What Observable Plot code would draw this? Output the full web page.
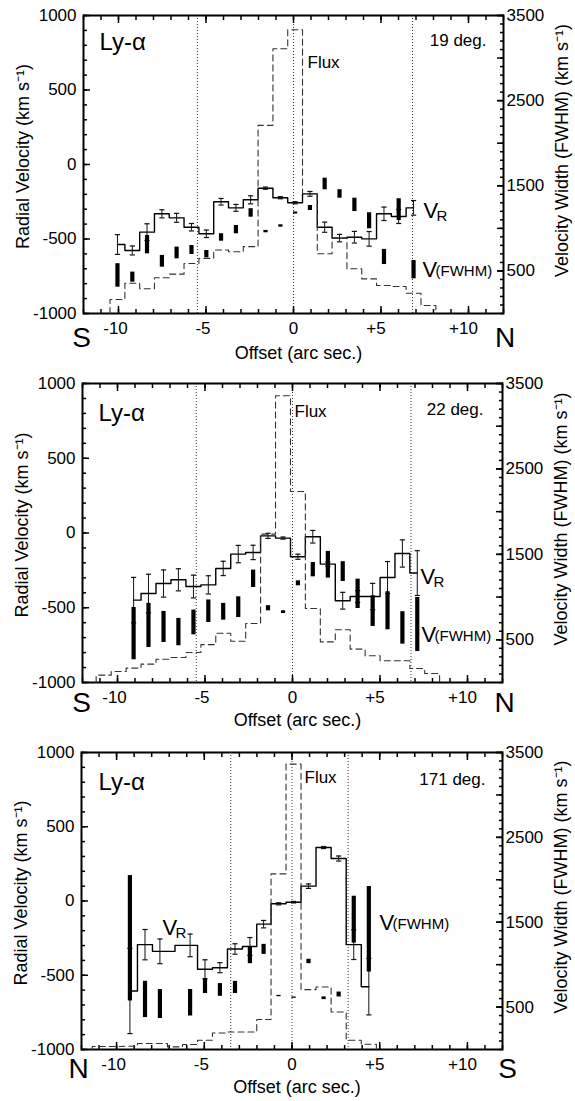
<!DOCTYPE html>
<html>
<head>
<meta charset="utf-8">
<script src="https://cdn.jsdelivr.net/npm/d3@7"></script>
<script src="https://cdn.jsdelivr.net/npm/@observablehq/plot@0.6"></script>
<style>
  html, body { margin: 0; padding: 0; background: #fff; }
  .panel { position: relative; width: 575px; }
  .panel svg { position: absolute; left: 0; top: 0; }
</style>
</head>
<body>
<div id="chart"></div>
<script>
// ---------------- DATA ----------------
// Panel 1: PA 19 deg (S -> N)
const offset19   = [-10.06,-9.21,-8.37,-7.52,-6.68,-5.83,-4.98,-4.14,-3.29,-2.45,-1.60,-0.75,0.09,0.94,1.78,2.63,3.48,4.32,5.17,6.01,6.86];
const vr19       = [-537,-577,-454,-331,-358,-421,-465,-250,-291,-237,-159,-223,-257,-197,-421,-494,-488,-499,-331,-349,-291];
const vrErr19    = [66,30,56,27,30,25,25,22,23,27,7,7,7,16,34,25,39,49,45,47,49];
const fwhm19     = [447,427,809,613,711,746,697,893,985,1181,962,1028,1180,1239,1521,1404,1276,1089,664,1220,515];
const fwhmErr19  = [138,59,108,69,69,53,43,44,49,50,14,14,12,29,68,50,78,94,89,128,108];
const fluxOffset19 = [-10.06,-9.21,-8.37,-7.52,-6.68,-5.83,-4.98,-4.14,-3.29,-2.45,-1.60,-0.75,0.09,0.94,1.78,2.63,3.48,4.32,5.17,6.01,6.86,7.71];
const flux19     = [165,355,290,420,462,588,647,745,725,785,2210,3110,3332,1406,701,889,525,407,329,317,238,94];
const dotted19   = [-5.49,0,6.8];

// Panel 2: PA 22 deg (S -> N)
const offset22   = [-9.08,-8.23,-7.37,-6.52,-5.66,-4.81,-3.96,-3.10,-2.25,-1.40,-0.54,0.31,1.16,2.02,2.87,3.72,4.58,5.43,6.28,7.13];
const vr22       = [-449,-405,-338,-313,-358,-347,-237,-141,-130,-19,-34,-159,-25,-208,-453,-425,-425,-298,-137,-268];
const vrErr22    = [152,129,91,74,76,61,48,58,48,17,7,17,42,15,56,40,88,107,91,150];
const fwhm22     = [572,668,650,590,703,834,828,882,1214,869,824,1161,1321,1378,1298,1038,836,840,639,679];
const fwhmErr22  = [306,258,182,160,145,132,98,121,102,30,16,29,84,156,116,172,180,223,190,316];
const fluxOffset22 = [-10.79,-9.93,-9.08,-8.23,-7.37,-6.52,-5.66,-4.81,-3.96,-3.10,-2.25,-1.40,-0.54,0.31,1.16,2.02,2.87,3.72,4.58,5.43,6.28,7.13,7.98];
const flux22     = [86,129,168,215,273,293,351,443,576,482,691,1737,3356,2236,866,476,617,391,313,254,254,164,105];
const dotted22   = [-5.5,0,6.77];

// Panel 3: PA 171 deg (N -> S)
const offset171  = [-9.24,-8.38,-7.53,-5.81,-4.96,-4.11,-3.25,-2.40,-1.62,-0.77,0.09,0.94,1.80,2.66,3.52,4.38];
const vr171      = [-606,-294,-339,-299,-460,-449,-323,-306,-156,-19,-8,100,360,286,-294,-577];
const vrErr171   = [287,102,83,76,64,34,35,60,25,7,5,15,7,17,100,190];
const fwhm171    = [1311,590,536,551,747,702,731,1109,1180,630,611,1037,604,648,1530,1417];
const fwhmErr171 = [739,214,171,156,88,75,72,98,59,8,8,26,16,29,276,504];
const fluxOffset171 = [-10.96,-10.10,-9.24,-8.38,-7.53,-6.67,-5.81,-4.96,-4.11,-3.25,-2.40,-1.62,-0.77,0.09,0.94,1.80,2.66,3.52,4.38];
const flux171    = [35,35,39,70,70,31,59,109,195,207,207,353,2070,3363,706,736,442,109,62];
const dotted171  = [-3.49,0,3.2];

// Axes
const xDomain = [-12, 12];
const xTicks = [-10, -5, 0, 5, 10];
const xTickLabels = ["-10", "-5", "0", "+5", "+10"];
const vrDomain = [-1000, 1000];
const vrTicks = [-1000, -500, 0, 500, 1000];
const fwhmDomain = [0, 3500];
const fwhmTicks = [500, 1500, 2500, 3500];

// ---------------- DRAWING ----------------
const FONT = "'Liberation Sans', Arial, Helvetica, sans-serif";
const hbar = {draw(ctx, size) { const r = Math.sqrt(size / Math.PI); ctx.moveTo(-r, 0); ctx.lineTo(r, 0); }};

function label(text, o) {
  return Plot.text([text], {text: d => d, lineAnchor: "top", fill: "#000", fontFamily: FONT, ...o});
}
const xLabel = d => xTickLabels[xTicks.indexOf(d)];

function makePanel(cfg) {
  const div = document.createElement("div");
  div.className = "panel";
  div.style.height = cfg.h + "px";

  const vrData = cfg.offset.map((x, i) => ({x, v: cfg.vr[i], lo: cfg.vr[i] - cfg.vrErr[i], hi: cfg.vr[i] + cfg.vrErr[i]}));
  const fwData = cfg.offset.map((x, i) => ({x, lo: cfg.fwhm[i] - cfg.fwhmErr[i], hi: cfg.fwhm[i] + cfg.fwhmErr[i]}));
  const fo = cfg.fluxOffset, n = fo.length;
  const hL = (fo[1] - fo[0]) / 2, hR = (fo[n - 1] - fo[n - 2]) / 2;
  const fluxPts = [
    {x: fo[0] - hL, w: 0}, {x: fo[0] - hL, w: cfg.flux[0]},
    ...fo.map((x, i) => ({x, w: cfg.flux[i]})),
    {x: fo[n - 1] + hR, w: cfg.flux[n - 1]}, {x: fo[n - 1] + hR, w: 0}
  ];

  const common = {
    width: 575, height: cfg.h,
    marginTop: cfg.mt, marginBottom: cfg.mb, marginLeft: cfg.ml, marginRight: cfg.mr,
    style: {background: "transparent", fontFamily: FONT, fontSize: "17px", color: "#000", overflow: "visible"}
  };
  const A = cfg.ann;
  // label-only bottom axes (zero-length ticks), so the sign can hang left of the tick
  const xLab = {anchor: "bottom", tickSize: 0, tickPadding: 8, tickFormat: xLabel, fontSize: 17, label: null};

  const svgA = Plot.plot({
    ...common,
    x: {domain: xDomain},
    y: {domain: vrDomain},
    marks: [
      Plot.ruleX(cfg.dotted, {x: d => d, stroke: "#333", strokeWidth: 1, strokeDasharray: "1,2"}),
      Plot.line(vrData, {x: "x", y: "v", curve: "step", stroke: "#000", strokeWidth: 1.4}),
      Plot.ruleX(vrData, {x: "x", y1: "lo", y2: "hi", stroke: "#111", strokeWidth: 1}),
      Plot.dot(vrData, {x: "x", y: "lo", symbol: hbar, r: 2.6, fill: "none", stroke: "#111", strokeWidth: 1.2}),
      Plot.dot(vrData, {x: "x", y: "hi", symbol: hbar, r: 2.6, fill: "none", stroke: "#111", strokeWidth: 1.2}),
      // axes (ticks inward)
      Plot.axisY({anchor: "left", ticks: d3.range(-1000, 1001, 100), tickSize: -4, strokeWidth: 1.5, tickFormat: () => "", label: null}),
      Plot.axisY({anchor: "left", ticks: vrTicks, tickSize: -7, strokeWidth: 1.5, tickPadding: 14, tickFormat: d => String(d), fontSize: 17, label: null}),
      Plot.axisX({anchor: "bottom", ticks: d3.range(-12, 13, 1), tickSize: -4, strokeWidth: 1.5, tickFormat: () => "", label: null}),
      Plot.axisX({anchor: "bottom", ticks: xTicks, tickSize: -7, strokeWidth: 1.5, tickFormat: () => "", label: null}),
      Plot.axisX({...xLab, ticks: xTicks.filter(d => d < 0), dx: -3}),
      Plot.axisX({...xLab, ticks: xTicks.filter(d => d === 0)}),
      Plot.axisX({...xLab, ticks: xTicks.filter(d => d > 0), dx: -5}),
      Plot.axisX({anchor: "top", ticks: d3.range(-12, 13, 1), tickSize: -4, strokeWidth: 1.5, tickFormat: () => "", label: null}),
      Plot.axisX({anchor: "top", ticks: xTicks, tickSize: -7, strokeWidth: 1.5, tickFormat: () => "", label: null}),
      Plot.frame({stroke: "#000", strokeWidth: 2}),
      // titles & annotations
      label("Radial Velocity (km s\u207B\u00B9)", {frameAnchor: "left", rotate: -90, lineAnchor: "middle", textAnchor: "middle", dx: -60, dy: -8, fontSize: 18}),
      label("Offset (arc sec.)", {frameAnchor: "bottom", textAnchor: "middle", dx: A.offDx, dy: A.offDy, fontSize: 18}),
      label(A.leftDir, {frameAnchor: "bottom-left", textAnchor: "middle", dx: A.ldDx, dy: A.dirDy, fontSize: 28}),
      label(A.rightDir, {frameAnchor: "bottom-right", textAnchor: "middle", dx: A.rdDx, dy: A.dirDy, fontSize: 28}),
      label("Ly-\u03B1", {frameAnchor: "top-left", textAnchor: "start", dx: A.lyDx, dy: A.lyDy, fontSize: 24}),
      label(A.angle, {frameAnchor: "top-right", textAnchor: "end", dx: A.degDx, dy: A.degDy, fontSize: 17}),
      label("Flux", {frameAnchor: "top-left", textAnchor: "start", dx: A.fluxDx, dy: A.fluxDy, fontSize: 17}),
      label("V", {frameAnchor: "top-left", textAnchor: "start", dx: A.vrDx, dy: A.vrDy, fontSize: 22}),
      label("R", {frameAnchor: "top-left", textAnchor: "start", dx: A.vrDx + 13, dy: A.vrDy + 8, fontSize: 15}),
      label("V", {frameAnchor: "top-left", textAnchor: "start", dx: A.vfDx, dy: A.vfDy, fontSize: 22}),
      label("(FWHM)", {frameAnchor: "top-left", textAnchor: "start", dx: A.vfDx + 13, dy: A.vfDy + 4, fontSize: 15})
    ]
  });
  svgA.style.background = "#fff";

  const svgB = Plot.plot({
    ...common,
    x: {domain: xDomain, axis: null},
    y: {domain: fwhmDomain},
    marks: [
      Plot.line(fluxPts, {x: "x", y: "w", curve: "step", stroke: "#333", strokeWidth: 1.1, strokeDasharray: "6,4"}),
      Plot.ruleX(fwData, {x: "x", y1: "lo", y2: "hi", stroke: "#000", strokeWidth: 4.2}),
      Plot.axisY({anchor: "right", ticks: d3.range(0, 3501, 100), tickSize: -4, strokeWidth: 1.5, tickFormat: () => "", label: null}),
      Plot.axisY({anchor: "right", ticks: d3.range(500, 3501, 500), tickSize: -7, strokeWidth: 1.5, tickFormat: () => "", label: null}),
      Plot.axisY({anchor: "right", ticks: fwhmTicks, tickSize: -7, strokeWidth: 1.5, tickPadding: 10, tickFormat: d => String(d), fontSize: 17, label: null}),
      label("Velocity Width (FWHM) (km s\u207B\u00B9)", {frameAnchor: "right", rotate: -90, lineAnchor: "middle", textAnchor: "middle", dx: 59, dy: -14, fontSize: 18})
    ]
  });

  div.appendChild(svgA);
  div.appendChild(svgB);
  return div;
}

const chart = document.getElementById("chart");
chart.appendChild(makePanel({
  h: 368, mt: 15, mb: 55, ml: 83, mr: 72,
  offset: offset19, vr: vr19, vrErr: vrErr19, fwhm: fwhm19, fwhmErr: fwhmErr19,
  fluxOffset: fluxOffset19, flux: flux19, dotted: dotted19,
  ann: {angle: "19 deg.", leftDir: "S", rightDir: "N", offDx: 5, offDy: 33, ldDx: -2, rdDx: 1.5, dirDy: 14,
        lyDx: 16, lyDy: 17, degDx: -17, degDy: 18, fluxDx: 224, fluxDy: 40, vrDx: 340, vrDy: 187, vfDx: 339, vfDy: 246}
}));
chart.appendChild(makePanel({
  h: 368, mt: 15, mb: 54, ml: 82, mr: 73,
  offset: offset22, vr: vr22, vrErr: vrErr22, fwhm: fwhm22, fwhmErr: fwhmErr22,
  fluxOffset: fluxOffset22, flux: flux22, dotted: dotted22,
  ann: {angle: "22 deg.", leftDir: "S", rightDir: "N", offDx: 5, offDy: 31, ldDx: -1, rdDx: 2, dirDy: 10,
        lyDx: 16, lyDy: 20, degDx: -19, degDy: 19, fluxDx: 212, fluxDy: 21, vrDx: 338, vrDy: 185, vfDx: 339, vfDy: 243}
}));
chart.appendChild(makePanel({
  h: 365, mt: 16, mb: 52, ml: 81, mr: 73,
  offset: offset171, vr: vr171, vrErr: vrErr171, fwhm: fwhm171, fwhmErr: fwhmErr171,
  fluxOffset: fluxOffset171, flux: flux171, dotted: dotted171,
  ann: {angle: "171 deg.", leftDir: "N", rightDir: "S", offDx: 5, offDy: 31, ldDx: -3, rdDx: 5, dirDy: 9,
        lyDx: 17, lyDy: 20, degDx: -17, degDy: 20, fluxDx: 223, fluxDy: 18, vrDx: 81, vrDy: 167, vfDx: 298, vfDy: 162}
}));
</script>
</body>
</html>
